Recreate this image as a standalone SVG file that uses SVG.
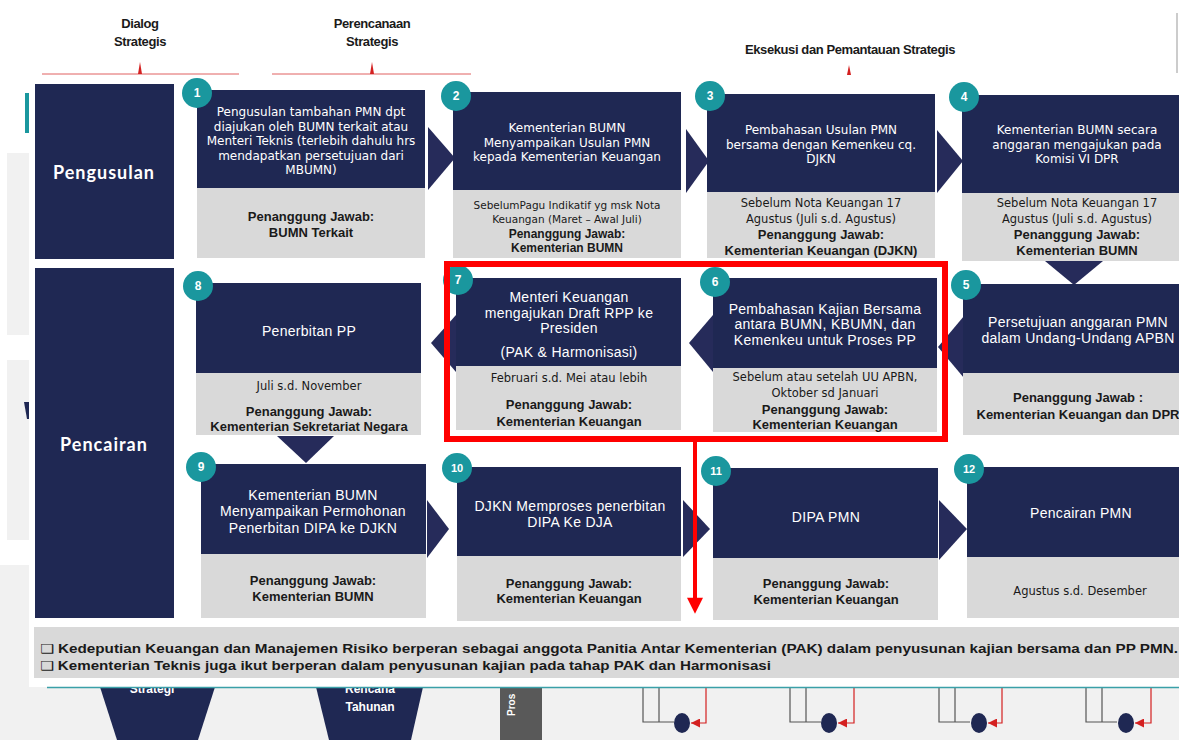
<svg xmlns="http://www.w3.org/2000/svg" width="1179" height="740" viewBox="0 0 1179 740">
<defs>
<style>
.hd{font-family:"Liberation Sans",Arial,sans-serif;font-weight:bold;font-size:13px;fill:#1a1a1a;text-anchor:middle;letter-spacing:-0.4px}
.nav{fill:#1f2853}
.gry{fill:#d9d9d9}
.badge{fill:#1a979e}
.num{font-family:"Liberation Sans",Arial,sans-serif;font-weight:bold;font-size:12px;fill:#fff;text-anchor:middle}
.lbl{font-family:Lato,"Liberation Sans",sans-serif;font-weight:bold;font-size:18px;fill:#fff;text-anchor:middle;letter-spacing:1px}
.ta{font-family:"DejaVu Sans","Liberation Sans",sans-serif;font-size:12px;fill:#fff;text-anchor:middle}
.tb{font-family:"Liberation Sans",Arial,sans-serif;font-size:14px;fill:#fff;text-anchor:middle;letter-spacing:0.3px}
.gr{font-family:"DejaVu Sans","Liberation Sans",sans-serif;font-size:11.5px;fill:#1a1a1a;text-anchor:middle}
.gs{font-family:"DejaVu Sans","Liberation Sans",sans-serif;font-size:10.5px;fill:#1a1a1a;text-anchor:middle}
.gb{font-family:"Liberation Sans",Arial,sans-serif;font-weight:bold;font-size:13px;fill:#1a1a1a;text-anchor:middle}
.chev{fill:#262b5a}
.note{font-family:"Liberation Sans","DejaVu Sans",Arial,sans-serif;font-weight:bold;font-size:12.5px;fill:#1a1a1a}
.bgt{font-family:"Liberation Sans",Arial,sans-serif;font-weight:bold;font-size:12px;fill:#fff;text-anchor:middle}
.wire{fill:none;stroke:#555;stroke-width:1.2}
.rwire{fill:none;stroke:#d42020;stroke-width:1.2}
</style>
<marker id="redTip" viewBox="0 0 10 10" refX="10" refY="5" markerWidth="9" markerHeight="9" markerUnits="userSpaceOnUse" orient="auto">
<path d="M0,0 L10,5 L0,10 z" fill="#d42020"/>
</marker>
<marker id="bigTip" viewBox="0 0 10 10" refX="2" refY="5" markerWidth="17" markerHeight="16" markerUnits="userSpaceOnUse" orient="auto">
<path d="M0,0 L10,5 L0,10 z" fill="#ff0000"/>
</marker>
</defs>

<!-- slide backdrop -->
<rect width="1179" height="740" fill="#fff"/>
<rect x="0" y="687" width="1179" height="53" fill="#f1f1f1"/>
<rect x="7" y="153" width="22" height="182" fill="#f1f1f1"/>
<rect x="7" y="360" width="22" height="180" fill="#f1f1f1"/>
<rect x="0" y="565" width="29" height="122" fill="#f1f1f1"/>
<rect x="25" y="93" width="4" height="40" fill="#1a979e"/>
<polygon points="24,402 29,402 29,419 27,419" fill="#1f2853"/>
<line x1="1177" y1="13" x2="1177" y2="73" stroke="#bbb" stroke-width="1.5"/>

<!-- phase headers -->
<g id="phase-headers">
<text class="hd" x="140" y="28">Dialog</text>
<text class="hd" x="140" y="46">Strategis</text>
<text class="hd" x="372" y="28">Perencanaan</text>
<text class="hd" x="372" y="46">Strategis</text>
<text class="hd" x="850" y="54">Eksekusi dan Pemantauan Strategis</text>
<line x1="42" y1="74" x2="239" y2="74" stroke="#e06060" stroke-width="1"/>
<polygon points="138,74 140,62 142,74" fill="#d42020"/>
<line x1="272" y1="74" x2="471" y2="74" stroke="#e06060" stroke-width="1"/>
<polygon points="370,74 372,62 374,74" fill="#d42020"/>
<polygon points="847,75 849,65 851,75" fill="#d42020"/>
</g>

<!-- lower backdrop shapes -->
<g id="backdrop-bottom">
<polygon points="100,687 215,687 198,740 117,740" fill="#1f2853"/>
<text class="bgt" x="152" y="693">Strategi</text>
<polygon points="316,687 423,687 411,740 329,740" fill="#1f2853"/>
<text class="bgt" x="370" y="693">Rencana</text>
<text class="bgt" x="370" y="711">Tahunan</text>
<rect x="500" y="687" width="42" height="53" fill="#595959"/>
<text class="bgt" style="font-size:10px;text-anchor:start" transform="translate(515,716) rotate(-90)">Pros</text>
<g id="mini-links">
<g transform="translate(643,0)">
<polyline class="wire" points="0,687 0,722 31,722"/><line class="wire" x1="16" y1="687" x2="16" y2="722"/>
<ellipse cx="39" cy="723" rx="8" ry="10" fill="#1f2853"/>
<polyline class="rwire" points="63,687 63,723 48,723" marker-end="url(#redTip)"/>
</g>
<g transform="translate(790,0)">
<polyline class="wire" points="0,687 0,722 31,722"/><line class="wire" x1="16" y1="687" x2="16" y2="722"/>
<ellipse cx="39" cy="723" rx="8" ry="10" fill="#1f2853"/>
<polyline class="rwire" points="64,687 64,723 48,723" marker-end="url(#redTip)"/>
</g>
<g transform="translate(939,0)">
<polyline class="wire" points="0,687 0,722 31,722"/><line class="wire" x1="16" y1="687" x2="16" y2="722"/>
<ellipse cx="40" cy="723" rx="8" ry="10" fill="#1f2853"/>
<polyline class="rwire" points="63,687 63,723 49,723" marker-end="url(#redTip)"/>
</g>
<g transform="translate(1086,0)">
<polyline class="wire" points="0,687 0,722 31,722"/><line class="wire" x1="16" y1="687" x2="16" y2="722"/>
<ellipse cx="40" cy="723" rx="8" ry="10" fill="#1f2853"/>
<polyline class="rwire" points="65,687 65,723 49,723" marker-end="url(#redTip)"/>
</g>
</g>
</g>

<!-- main panel -->
<rect x="29" y="77" width="1150" height="610" fill="#fff"/>
<line x1="47" y1="687.5" x2="1179" y2="687.5" stroke="#3aa0a8" stroke-width="1.5"/>

<g id="lane-pengusulan">
<rect class="nav" x="35" y="84" width="139" height="175"/>
<text class="lbl" x="104" y="179">Pengusulan</text>
</g>
<g id="lane-pencairan">
<rect class="nav" x="35" y="268" width="139" height="350"/>
<text class="lbl" x="104" y="451">Pencairan</text>
</g>

<!-- connectors between steps -->
<g id="connectors">
<polygon class="chev" points="428,127 455,158 428,190"/>
<polygon class="chev" points="686,129 709,161 686,193"/>
<polygon class="chev" points="937,130 963,161 937,193"/>
<polygon class="chev" points="1045,261 1103,261 1074,285"/>
<polygon class="chev" points="964,316 938,347 964,378"/>
<polygon class="chev" points="713,315 689,343 713,372"/>
<polygon class="chev" points="456,315 431,343 456,372"/>
<polygon class="chev" points="277,436 334,436 306,463"/>
<polygon class="chev" points="427,500 449,529 427,558"/>
<polygon class="chev" points="683,500 710,529 683,557"/>
<polygon class="chev" points="939,500 967,529 939,560"/>
</g>

<g id="step-1">
<rect class="nav" x="197" y="90" width="228" height="98"/>
<rect class="gry" x="197" y="188" width="228" height="70"/>
<text class="ta" x="311" y="116">Pengusulan tambahan PMN dpt</text>
<text class="ta" x="311" y="131">diajukan oleh BUMN  terkait atau</text>
<text class="ta" x="311" y="145">Menteri  Teknis (terlebih dahulu hrs</text>
<text class="ta" x="311" y="160">mendapatkan persetujuan dari</text>
<text class="ta" x="311" y="174">MBUMN)</text>
<text class="gb" x="311" y="221">Penanggung Jawab:</text>
<text class="gb" x="311" y="237">BUMN Terkait</text>
<circle class="badge" cx="197" cy="93" r="15"/><text class="num" x="197" y="97">1</text>
</g>

<g id="step-2">
<rect class="nav" x="453" y="92" width="228" height="98"/>
<rect class="gry" x="453" y="190" width="228" height="68"/>
<text class="ta" x="567" y="132">Kementerian BUMN</text>
<text class="ta" x="567" y="147">Menyampaikan  Usulan PMN</text>
<text class="ta" x="567" y="161">kepada Kementerian Keuangan</text>
<text class="gs" x="567" y="209">SebelumPagu Indikatif yg msk Nota</text>
<text class="gs" x="567" y="223">Keuangan  (Maret – Awal Juli)</text>
<text class="gb" x="567" y="238" style="font-size:12px">Penanggung Jawab:</text>
<text class="gb" x="567" y="252" style="font-size:12px">Kementerian BUMN</text>
<circle class="badge" cx="456" cy="96" r="15"/><text class="num" x="456" y="100">2</text>
</g>

<g id="step-3">
<rect class="nav" x="707" y="94" width="228" height="98"/>
<rect class="gry" x="707" y="192" width="228" height="66"/>
<text class="ta" x="821" y="134">Pembahasan Usulan PMN</text>
<text class="ta" x="821" y="149">bersama dengan Kemenkeu cq.</text>
<text class="ta" x="821" y="163">DJKN</text>
<text class="gr" x="821" y="207">Sebelum  Nota Keuangan 17</text>
<text class="gr" x="821" y="223">Agustus  (Juli s.d. Agustus)</text>
<text class="gb" x="821" y="239">Penanggung Jawab:</text>
<text class="gb" x="821" y="255">Kementerian Keuangan (DJKN)</text>
<circle class="badge" cx="710" cy="96" r="15"/><text class="num" x="710" y="100">3</text>
</g>

<g id="step-4">
<rect class="nav" x="962" y="95" width="230" height="98"/>
<rect class="gry" x="962" y="193" width="230" height="68"/>
<text class="ta" x="1077" y="134">Kementerian BUMN  secara</text>
<text class="ta" x="1077" y="149">anggaran mengajukan pada</text>
<text class="ta" x="1077" y="163">Komisi VI DPR</text>
<text class="gr" x="1077" y="207">Sebelum  Nota Keuangan 17</text>
<text class="gr" x="1077" y="223">Agustus  (Juli s.d. Agustus)</text>
<text class="gb" x="1077" y="239">Penanggung Jawab:</text>
<text class="gb" x="1077" y="255">Kementerian BUMN</text>
<circle class="badge" cx="964" cy="97" r="15"/><text class="num" x="964" y="101">4</text>
</g>

<g id="step-5">
<rect class="nav" x="963" y="284" width="230" height="89"/>
<rect class="gry" x="963" y="373" width="230" height="62"/>
<text class="tb" x="1078" y="327">Persetujuan anggaran PMN</text>
<text class="tb" x="1078" y="343">dalam Undang-Undang APBN</text>
<text class="gb" x="1078" y="402">Penanggung Jawab :</text>
<text class="gb" x="1078" y="419">Kementerian Keuangan dan DPR</text>
<circle class="badge" cx="966" cy="285" r="15"/><text class="num" x="966" y="289">5</text>
</g>

<g id="step-6">
<rect class="nav" x="713" y="278" width="224" height="90"/>
<rect class="gry" x="713" y="368" width="224" height="64"/>
<text class="tb" x="825" y="314">Pembahasan Kajian Bersama</text>
<text class="tb" x="825" y="329">antara BUMN, KBUMN, dan</text>
<text class="tb" x="825" y="345">Kemenkeu untuk Proses PP</text>
<text class="gr" x="825" y="381">Sebelum  atau setelah UU APBN,</text>
<text class="gr" x="825" y="397">Oktober sd Januari</text>
<text class="gb" x="825" y="414">Penanggung Jawab:</text>
<text class="gb" x="825" y="429">Kementerian Keuangan</text>
<circle class="badge" cx="715" cy="282" r="15"/><text class="num" x="715" y="286">6</text>
</g>

<g id="step-7">
<rect class="nav" x="456" y="278" width="225" height="88"/>
<rect class="gry" x="456" y="366" width="225" height="64"/>
<text class="tb" x="569" y="302">Menteri Keuangan</text>
<text class="tb" x="569" y="318">mengajukan Draft RPP ke</text>
<text class="tb" x="569" y="333">Presiden</text>
<text class="tb" x="569" y="357">(PAK &amp; Harmonisasi)</text>
<text class="gr" x="569" y="382">Februari s.d. Mei  atau lebih</text>
<text class="gb" x="569" y="409">Penanggung Jawab:</text>
<text class="gb" x="569" y="426">Kementerian Keuangan</text>
<circle class="badge" cx="458" cy="280" r="15"/><text class="num" x="458" y="284">7</text>
</g>

<g id="step-8">
<rect class="nav" x="196" y="283" width="225" height="90"/>
<rect class="gry" x="196" y="373" width="225" height="62"/>
<text class="tb" x="309" y="336">Penerbitan PP</text>
<text class="gr" x="309" y="390">Juli s.d. November</text>
<text class="gb" x="309" y="416">Penanggung Jawab:</text>
<text class="gb" x="309" y="431">Kementerian Sekretariat Negara</text>
<circle class="badge" cx="198" cy="286" r="15"/><text class="num" x="198" y="290">8</text>
</g>

<g id="step-9">
<rect class="nav" x="201" y="464" width="225" height="90"/>
<rect class="gry" x="201" y="554" width="225" height="64"/>
<text class="tb" x="313" y="500">Kementerian BUMN</text>
<text class="tb" x="313" y="516">Menyampaikan Permohonan</text>
<text class="tb" x="313" y="533">Penerbitan DIPA ke DJKN</text>
<text class="gb" x="313" y="585">Penanggung Jawab:</text>
<text class="gb" x="313" y="601">Kementerian BUMN</text>
<circle class="badge" cx="201" cy="467" r="15"/><text class="num" x="201" y="471">9</text>
</g>

<g id="step-10">
<rect class="nav" x="457" y="467" width="224" height="89"/>
<rect class="gry" x="457" y="556" width="224" height="65"/>
<text class="tb" x="570" y="511">DJKN Memproses penerbitan</text>
<text class="tb" x="570" y="527">DIPA Ke DJA</text>
<text class="gb" x="569" y="588">Penanggung Jawab:</text>
<text class="gb" x="569" y="603">Kementerian Keuangan</text>
<circle class="badge" cx="457" cy="468" r="15"/><text class="num" x="457" y="472" style="font-size:11px">10</text>
</g>

<g id="step-11">
<rect class="nav" x="713" y="468" width="225" height="90"/>
<rect class="gry" x="713" y="558" width="225" height="62"/>
<text class="tb" x="826" y="522">DIPA PMN</text>
<text class="gb" x="826" y="588">Penanggung Jawab:</text>
<text class="gb" x="826" y="604">Kementerian Keuangan</text>
<circle class="badge" cx="716" cy="471" r="15"/><text class="num" x="716" y="475" style="font-size:11px">11</text>
</g>

<g id="step-12">
<rect class="nav" x="967" y="467" width="228" height="90"/>
<rect class="gry" x="967" y="557" width="228" height="61"/>
<text class="tb" x="1081" y="518">Pencairan PMN</text>
<text class="gr" x="1080" y="595">Agustus s.d. Desember</text>
<circle class="badge" cx="969" cy="469" r="15"/><text class="num" x="969" y="473" style="font-size:11px">12</text>
</g>

<!-- highlight around steps 6 and 7 with its pointer -->
<g id="highlight">
<rect x="447" y="264" width="498" height="175" fill="none" stroke="#ff0000" stroke-width="6"/>
<line x1="695" y1="442" x2="695" y2="601" stroke="#ff0000" stroke-width="4" marker-end="url(#bigTip)"/>
</g>

<g id="notes">
<rect x="34" y="627" width="1150" height="51" fill="#d9d9d9"/>
<text class="note" x="40" y="653" textLength="1138" lengthAdjust="spacingAndGlyphs">❑ Kedeputian Keuangan dan Manajemen Risiko berperan sebagai anggota Panitia Antar Kementerian (PAK) dalam penyusunan kajian bersama dan PP PMN.</text>
<text class="note" x="40" y="670" textLength="731" lengthAdjust="spacingAndGlyphs">❑ Kementerian Teknis juga ikut berperan dalam penyusunan kajian pada tahap PAK dan Harmonisasi</text>
</g>
</svg>
